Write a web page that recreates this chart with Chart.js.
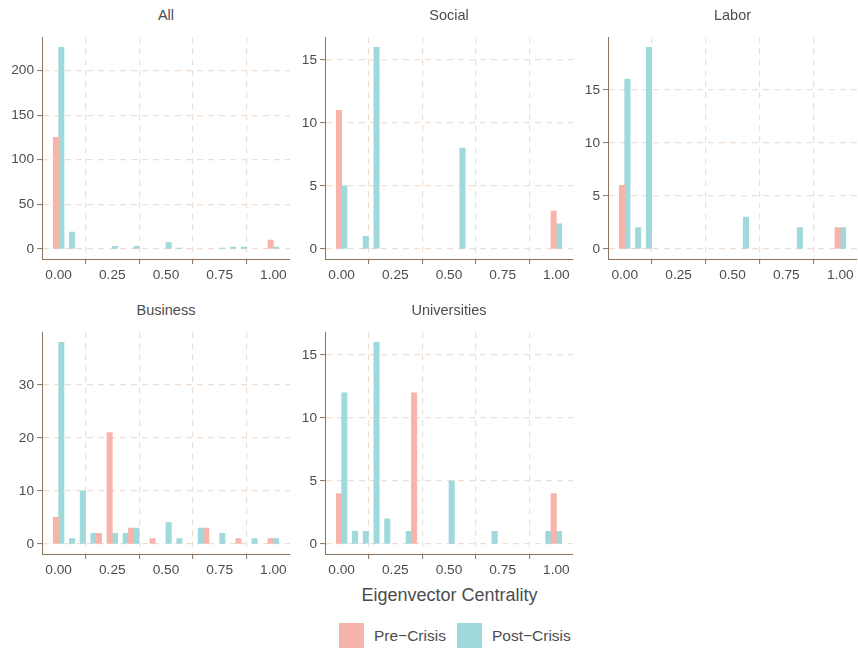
<!DOCTYPE html>
<html>
<head>
<meta charset="utf-8">
<script src="https://cdn.jsdelivr.net/npm/chart.js@4/dist/chart.umd.min.js"></script>
<style>
  body { margin: 0; background: #ffffff; font-family: "Liberation Sans", Arial, sans-serif; }
  #wrap { position: relative; width: 858px; height: 648px; overflow: hidden; }
  canvas { position: absolute; }
  .strip { position: absolute; text-align: center; color: #4d4d4d; font-size: 14.5px; line-height: 18px; }
  .title { position: absolute; left: 42px; width: 815px; top: 584px; text-align: center; color: #4d4d4d; font-size: 18px; line-height: 22px; }
  .key { position: absolute; top: 623px; width: 25px; height: 25px; }
  .keylab { position: absolute; top: 626px; color: #4d4d4d; font-size: 15.5px; line-height: 19px; }
</style>
</head>
<body>
<div id="wrap"></div>
<script>
// histogram bins (bin centres, width 0.05)
const bins = [0.00, 0.05, 0.10, 0.15, 0.20, 0.25, 0.30, 0.35, 0.40, 0.45, 0.50,
              0.55, 0.60, 0.65, 0.70, 0.75, 0.80, 0.85, 0.90, 0.95, 1.00];
const seriesNames = ['Pre\u2212Crisis', 'Post\u2212Crisis'];
const panelNames = ['All', 'Social', 'Labor', 'Business', 'Universities'];
const xTicks = [0, 0.25, 0.5, 0.75, 1];

//                 0  .05 .10 .15 .20 .25 .30 .35 .40 .45 .50 .55 .60 .65 .70 .75 .80 .85 .90 .95 1.0
const allPre    = [125, 0,  0,  0,  0,  0,  0,  0,  0,  0,  0,  0,  0,  0,  0,  0,  0,  0,  0,  0, 10];
const allPost   = [226, 19, 0,  0,  0,  3,  0,  3,  0,  0,  7,  1,  0,  0,  0,  1,  2,  2,  0,  0,  2];
const socialPre = [11,  0,  0,  0,  0,  0,  0,  0,  0,  0,  0,  0,  0,  0,  0,  0,  0,  0,  0,  0,  3];
const socialPost= [5,   0,  1, 16,  0,  0,  0,  0,  0,  0,  0,  8,  0,  0,  0,  0,  0,  0,  0,  0,  2];
const laborPre  = [6,   0,  0,  0,  0,  0,  0,  0,  0,  0,  0,  0,  0,  0,  0,  0,  0,  0,  0,  0,  2];
const laborPost = [16,  2, 19,  0,  0,  0,  0,  0,  0,  0,  0,  3,  0,  0,  0,  0,  2,  0,  0,  0,  2];
const busPre    = [5,   0,  0,  0,  2, 21,  0,  3,  0,  1,  0,  0,  0,  0,  3,  0,  0,  1,  0,  0,  1];
const busPost   = [38,  1, 10,  2,  0,  2,  2,  3,  0,  0,  4,  1,  0,  3,  0,  2,  0,  0,  1,  0,  1];
const uniPre    = [4,   0,  0,  0,  0,  0,  0, 12,  0,  0,  0,  0,  0,  0,  0,  0,  0,  0,  0,  0,  4];
const uniPost   = [12,  1,  1, 16,  2,  0,  1,  0,  0,  0,  5,  0,  0,  0,  1,  0,  0,  0,  0,  1,  1];

const yMaxCounts = [226, 16, 19, 38, 16];
const yTicks = [
  [0, 50, 100, 150, 200],
  [0, 5, 10, 15],
  [0, 5, 10, 15],
  [0, 10, 20, 30],
  [0, 5, 10, 15]
];

const preColor = '#f7b4aa';
const postColor = '#9fd9db';
const gridColor = '#eedfd2';
const axisColor = '#8b735a';
const textColor = '#4d4d4d';

const panelData = [
  [allPre, allPost], [socialPre, socialPost], [laborPre, laborPost],
  [busPre, busPost], [uniPre, uniPost]
];
// plot areas: left, top, width, height
const panels = [
  [42, 31, 248, 228], [325, 31, 248, 228], [608, 31, 249, 228],
  [42, 326, 248, 228], [325, 326, 248, 228]
];

const wrap = document.getElementById('wrap');
const topPad = 5, yAxisW = 42, xAxisH = 30;

panels.forEach((p, i) => {
  const [pl, pt, pw, ph] = p;
  const canvas = document.createElement('canvas');
  const cw = yAxisW + pw + 1, chh = topPad + ph + xAxisH;
  canvas.width = cw; canvas.height = chh;
  canvas.style.left = (pl - yAxisW) + 'px';
  canvas.style.top = (pt - topPad) + 'px';
  canvas.style.width = cw + 'px'; canvas.style.height = chh + 'px';
  wrap.appendChild(canvas);

  const strip = document.createElement('div');
  strip.className = 'strip';
  strip.style.left = pl + 'px'; strip.style.width = pw + 'px';
  strip.style.top = (pt - 25) + 'px';
  strip.textContent = panelNames[i];
  wrap.appendChild(strip);

  const ymax = yMaxCounts[i];
  const gridOpts = { color: gridColor, lineWidth: 1.2, tickLength: 5, tickColor: axisColor, tickWidth: 1, tickBorderDash: [] };
  new Chart(canvas.getContext('2d'), {
    type: 'bar',
    data: {
      datasets: panelData[i].map((vals, k) => ({
        label: seriesNames[k],
        // empty bins get no bar (null) but keep their x slot for the bar width
        data: bins.map((b, j) => ({ x: b, y: vals[j] === 0 ? null : vals[j] })),
        backgroundColor: k === 0 ? preColor : postColor,
        borderWidth: 0,
        categoryPercentage: 1,
        barPercentage: 1
      }))
    },
    options: {
      responsive: false,
      animation: false,
      devicePixelRatio: 1,
      layout: { padding: { top: topPad, right: 1, left: 0, bottom: 0 } },
      plugins: { legend: { display: false }, tooltip: { enabled: false } },
      scales: {
        x: {
          type: 'linear',
          offset: false,
          min: -0.0775, max: 1.0775,
          afterFit: s => { s.height = xAxisH; },
          afterBuildTicks: s => { s.ticks = xTicks.map(v => ({ value: v })); },
          ticks: {
            color: textColor, font: { family: 'Liberation Sans', size: 13.7 },
            padding: 3, maxRotation: 0, autoSkip: false,
            callback: v => Number(v).toFixed(2)
          },
          grid: gridOpts,
          border: { color: axisColor, width: 1, dash: [6, 5] }
        },
        y: {
          min: -0.05 * ymax, max: 1.05 * ymax,
          afterFit: s => { s.width = yAxisW; },
          afterBuildTicks: s => { s.ticks = yTicks[i].map(v => ({ value: v })); },
          ticks: {
            color: textColor, font: { family: 'Liberation Sans', size: 13.7 }, padding: 3,
            autoSkip: false
          },
          grid: gridOpts,
          border: { color: axisColor, width: 1, dash: [6, 5] }
        }
      }
    }
  });
});

// shared x-axis title
const title = document.createElement('div');
title.className = 'title';
title.textContent = 'Eigenvector Centrality';
wrap.appendChild(title);

// legend
const keys = [[339, 374, preColor], [457, 492, postColor]];
keys.forEach((k, i) => {
  const sq = document.createElement('div');
  sq.className = 'key';
  sq.style.left = k[0] + 'px';
  sq.style.background = k[2];
  wrap.appendChild(sq);
  const lab = document.createElement('div');
  lab.className = 'keylab';
  lab.style.left = k[1] + 'px';
  lab.textContent = seriesNames[i];
  wrap.appendChild(lab);
});
</script>
</body>
</html>
